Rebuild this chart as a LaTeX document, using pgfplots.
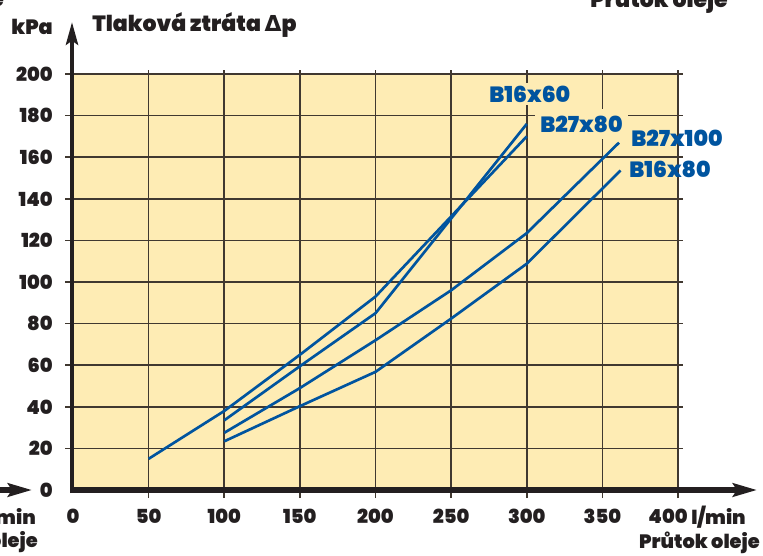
\documentclass[border=0pt]{standalone}
\usepackage{fontspec}
\setmainfont{Poppins}[UprightFont={* Black}]
\newfontfamily\dvs{DejaVu Sans Bold}
\usepackage{pgfplots}
\pgfplotsset{compat=1.18}
\usetikzlibrary{arrows.meta}
\definecolor{chartyellow}{RGB}{254,236,180}
\definecolor{lineblue}{RGB}{0,84,159}
\definecolor{gridc}{RGB}{64,56,48}
\definecolor{ink}{RGB}{35,31,32}
\tikzset{lbl/.style={font=\fontsize{16.5}{16.5}\selectfont, text=lineblue, inner sep=2pt}}

\begin{document}
\begin{tikzpicture}
% 1px = 0.75pt, origin top left, y down; page is exactly 763x556 px
\useasboundingbox (0,0) rectangle (572.25pt,-417pt);

\begin{axis}[
    at={(54.75pt,-367.5pt)}, anchor=south west,
    scale only axis, width=453.75pt, height=312pt,
    xmin=0, xmax=400, ymin=0, ymax=200,
    axis background/.style={fill=chartyellow},
    axis line style={draw=none},
    major tick length=0pt,
    xtick={0,50,...,350}, ytick={0,20,...,200},
    extra x ticks={400},
    extra x tick style={xticklabel style={xshift=-7.5pt}},
    /pgf/number format/assume math mode=true,
    tick label style={font=\fontsize{14.5}{14.5}\selectfont, text=ink, inner sep=0pt},
    yticklabel style={anchor=east, xshift=-15pt},
    xticklabel style={anchor=north, yshift=-14.25pt},
    clip=false,
    series/.style={color=lineblue, line width=2pt, line join=round, mark=none},
]
% grid with small overshoot outside the plot area
\pgfplotsinvokeforeach{20,40,...,200}{
  \draw[gridc, line width=1.2pt] ([xshift=-6pt]axis cs:0,#1) -- ([xshift=3.75pt]axis cs:400,#1);
}
\pgfplotsinvokeforeach{50,100,...,400}{
  \draw[gridc, line width=1.2pt] ([yshift=-6pt]axis cs:#1,0) -- ([yshift=3pt]axis cs:#1,200);
}

\addplot[series] coordinates {(50,15)(100,38)(150,65)(200,93)(250,131.5)(300,170)};
\addplot[series] coordinates {(100,33.5)(150,59.5)(200,85)(250,130.5)(300,176)};
\addplot[series] coordinates {(100,27.5)(150,49)(200,72)(250,96)(300,123.5)(361,167)};
\addplot[series] coordinates {(100,23.4)(150,40.3)(200,56.8)(250,82.4)(300,108.8)(362,153.6)};

\node[lbl, fill=chartyellow] at (axis cs:302,190.4) {B16x60};
\node[lbl, fill=chartyellow, inner xsep=4pt, inner ysep=5pt] at (axis cs:336.2,176) {B27x80};
\node[lbl] at (axis cs:399.3,169) {B27x100};
\node[lbl] at (axis cs:394.7,154.3) {B16x80};
\end{axis}

\begin{scope}[x=0.75pt,y=-0.75pt, every node/.style={text=ink, inner sep=0pt, font=\fontsize{14.5}{14.5}\selectfont}]
% axes
\draw[ink, line width=4pt, -{Stealth[length=18pt,width=10pt,inset=3pt]}] (70,490) -- (757,490);
\draw[ink, line width=3.2pt, -{Stealth[length=17pt,width=9pt,inset=3pt]}] (72,493) -- (72,22);
% axis texts
\node[anchor=base east, font=\fontsize{15.5}{15.5}\selectfont] at (53,35) {kPa};
\node[anchor=base west, font=\fontsize{16.5}{16.5}\selectfont] at (92,32) {Tlaková ztráta {\dvs Δ}p};
\node[anchor=base west] at (691,524) {l/min};
\node[anchor=base east] at (760,548) {Průtok oleje};
% pieces of the neighbouring charts
\draw[ink, line width=4pt, -{Stealth[length=18pt,width=10pt,inset=3pt]}] (-60,490) -- (32,490);
\node[anchor=base east] at (36,524) {l/min};
\node[anchor=base east] at (38,547) {Průtok oleje};
\node[anchor=base east] at (4,7) {oleje};
\node[anchor=base east, font=\fontsize{16.5}{16.5}\selectfont] at (728,8) {Průtok oleje};
\end{scope}
\end{tikzpicture}
\end{document}
